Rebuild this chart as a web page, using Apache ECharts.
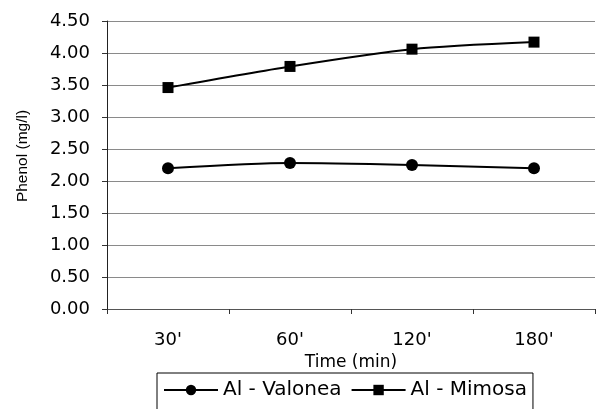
<!DOCTYPE html>
<html>
<head>
    <meta charset="utf-8">
    <title>index</title>
    <style>
        html, body { margin: 0; padding: 0; background: #fff; }
        #container { width: 596px; height: 409px; }
    </style>
</head>
<body>
    <div id="container"></div>
</body>
<script src="https://cdn.jsdelivr.net/npm/echarts@6/dist/echarts.min.js"></script>
<script type="text/javascript">
    // 数据
    var times = ["30'", "60'", "120'", "180'"];
    var valonea = [2.20, 2.28, 2.25, 2.20];
    var mimosa = [3.46, 3.79, 4.06, 4.17];

    var font = "DejaVu Sans";
    var myChart = echarts.init(document.getElementById("container"));

    var option = {
        backgroundColor: "#fff",
        animation: false,
        grid: { left: 107, right: 1, top: 21, bottom: 100 },
        // 纵轴标题单独放置
        graphic: [{
            type: "text",
            x: 23,
            y: 156,
            rotation: Math.PI / 2,
            style: {
                text: "Phenol (mg/l)",
                fontFamily: "Liberation Sans",
                fontSize: 15.5,
                fill: "#000",
                align: "center",
                verticalAlign: "middle"
            }
        }],
        legend: {
            left: 157,
            top: 373,
            padding: [7, 6, 10, 6],
            itemWidth: 54,
            itemHeight: 13,
            itemGap: 9,
            borderColor: "#000",
            borderWidth: 1,
            textStyle: { fontFamily: font, fontSize: 20, color: "#000" },
            data: ["Al - Valonea", "Al - Mimosa"]
        },
        xAxis: {
            type: "category",
            data: times,
            boundaryGap: true,
            name: "Time (min)",
            nameLocation: "middle",
            nameGap: 30,
            nameTextStyle: { fontFamily: font, fontSize: 17, color: "#000" },
            axisLine: { lineStyle: { color: "#555", width: 1 } },
            axisTick: { show: true, length: 5, inside: false, lineStyle: { color: "#333" } },
            axisLabel: { margin: 22, fontFamily: font, fontSize: 18, color: "#000" },
            splitLine: { show: false }
        },
        yAxis: {
            type: "value",
            min: 0,
            max: 4.5,
            interval: 0.5,
            axisLine: { show: true, lineStyle: { color: "#222", width: 1 } },
            axisTick: { show: true, length: 5, lineStyle: { color: "#333" } },
            axisLabel: {
                margin: 17,
                fontFamily: font,
                fontSize: 18,
                color: "#000",
                formatter: function (v) { return v.toFixed(2); }
            },
            splitLine: { show: true, lineStyle: { color: "#8a8a8a", width: 1 } }
        },
        series: [
            {
                name: "Al - Valonea",
                type: "line",
                data: valonea,
                smooth: 0.25,
                symbol: "circle",
                symbolSize: 12,
                lineStyle: { color: "#000", width: 2 },
                itemStyle: { color: "#000" }
            },
            {
                name: "Al - Mimosa",
                type: "line",
                data: mimosa,
                smooth: 0.25,
                symbol: "rect",
                symbolSize: 11,
                lineStyle: { color: "#000", width: 2 },
                itemStyle: { color: "#000" }
            }
        ]
    };
    myChart.setOption(option);
</script>
</html>
